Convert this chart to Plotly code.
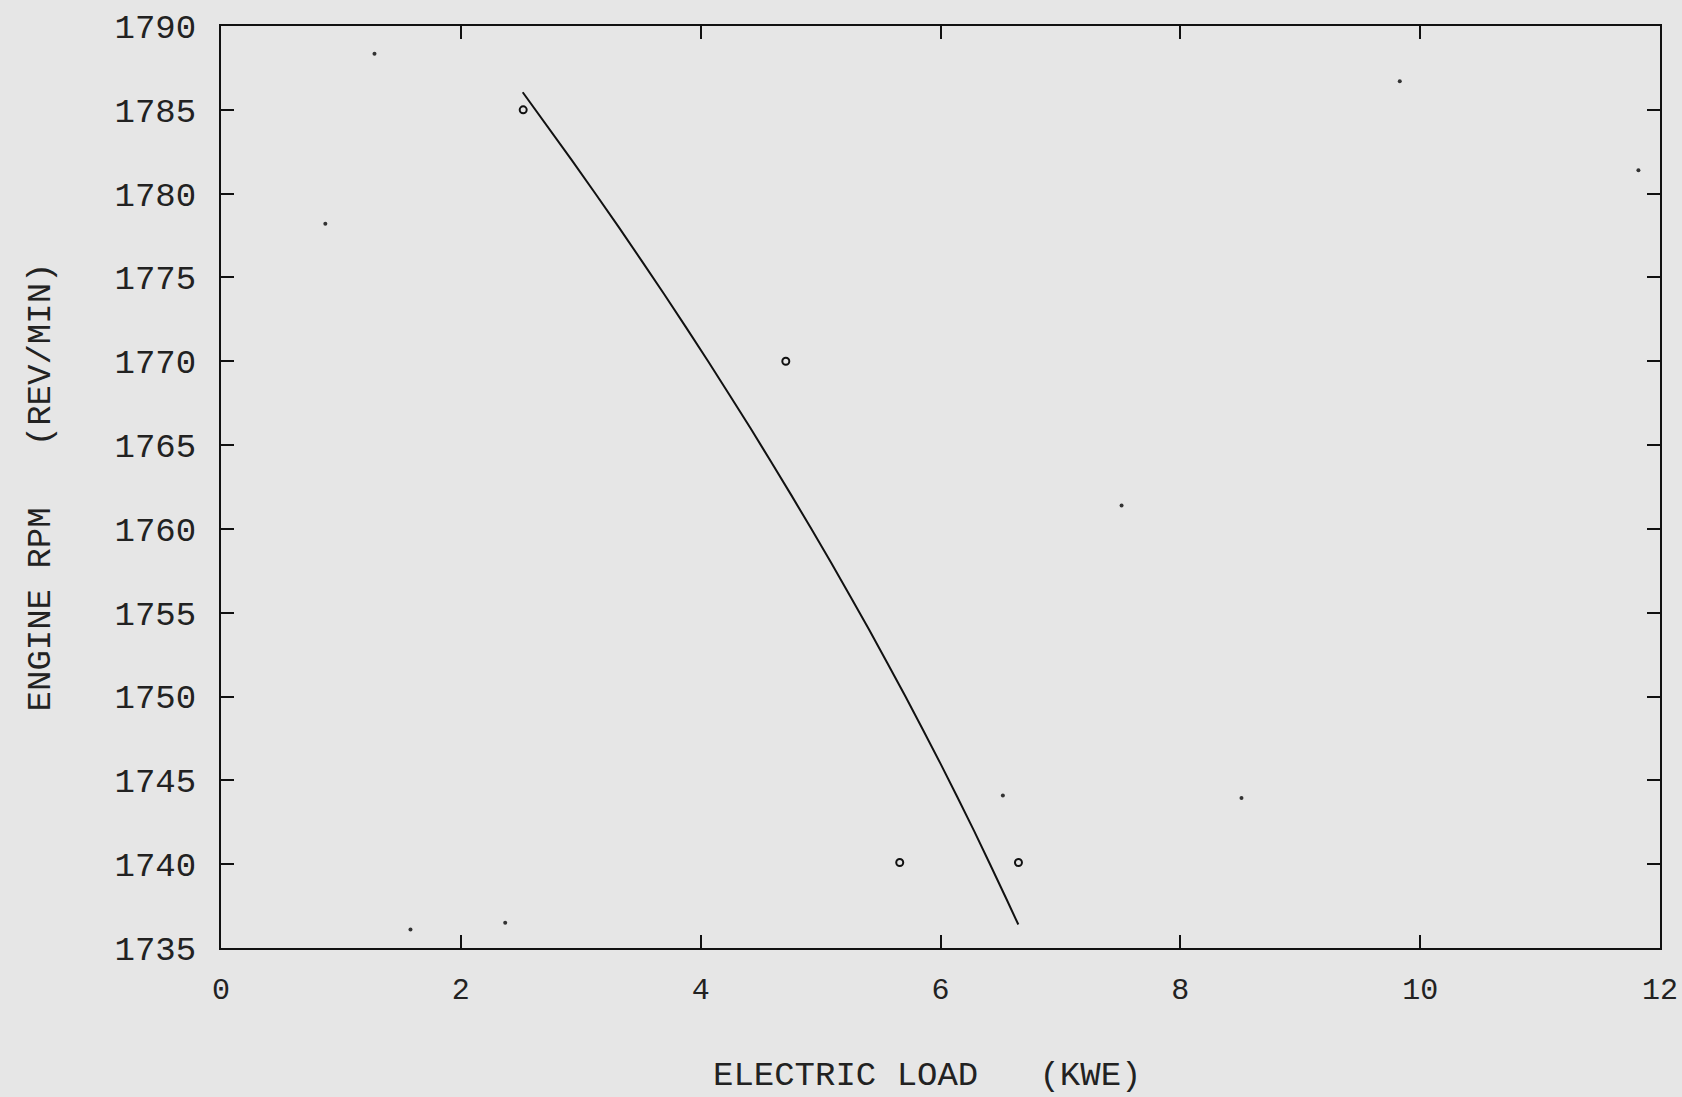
import plotly.graph_objects as go

# Measured data points (open circles)
load_pts = [2.52, 4.71, 5.66, 6.65]
rpm_pts = [1785.0, 1770.0, 1740.1, 1740.1]

# Fitted curve
curve_load = [2.516, 2.925, 3.317, 3.696, 4.062, 4.416, 4.757, 5.087, 5.404, 5.708, 6.000, 6.279, 6.545, 6.649]
curve_rpm = [1786.05, 1782, 1778, 1774, 1770, 1766, 1762, 1758, 1754, 1750, 1746, 1742, 1738, 1736.4]

# Visible specks on the scanned sheet
speck_load = [1.28, 9.83, 7.51, 6.52, 8.51, 2.37, 1.58, 11.82, 0.87]
speck_rpm = [1788.35, 1786.7, 1761.4, 1744.1, 1743.95, 1736.5, 1736.1, 1781.4, 1778.2]

x_ticks = [0, 2, 4, 6, 8, 10, 12]
y_ticks = [1735, 1740, 1745, 1750, 1755, 1760, 1765, 1770, 1775, 1780, 1785, 1790]

x_title = "ELECTRIC LOAD\u00a0\u00a0\u00a0(KWE)"
y_title = "ENGINE RPM\u00a0\u00a0\u00a0(REV/MIN)"

FONT = "Liberation Mono"
BG = "#e6e6e6"

fig = go.Figure()
fig.add_trace(go.Scatter(x=speck_load, y=speck_rpm, mode="markers",
                         marker=dict(size=4, color="#333333"), hoverinfo="skip"))
fig.add_trace(go.Scatter(x=curve_load, y=curve_rpm, mode="lines",
                         line=dict(color="#111111", width=2, shape="spline", smoothing=0.6)))
fig.add_trace(go.Scatter(x=load_pts, y=rpm_pts, mode="markers",
                         marker=dict(symbol="circle-open", size=7, color="#111111",
                                     line=dict(width=2, color="#111111"))))

axis_common = dict(showline=True, linecolor="#111111", linewidth=2, mirror="ticks",
                   ticks="inside", ticklen=13, tickwidth=2, tickcolor="#111111",
                   showgrid=False, zeroline=False, ticklabeloverflow="allow",
                   automargin=False)

fig.update_layout(
    width=1682, height=1097,
    margin=dict(l=221, r=22, t=26, b=149),
    paper_bgcolor=BG, plot_bgcolor=BG,
    showlegend=False,
    xaxis=dict(range=[0, 12], tickvals=x_ticks, ticktext=[str(v) for v in x_ticks],
               ticklabelstandoff=13,
               tickfont=dict(family=FONT, size=30, color="#222222"),
               **axis_common),
    yaxis=dict(range=[1735, 1790], tickvals=y_ticks, ticktext=[str(v) for v in y_ticks],
               ticklabelstandoff=16,
               tickfont=dict(family=FONT, size=34, color="#222222"),
               title=dict(text=y_title, standoff=54,
                          font=dict(family=FONT, size=34, color="#222222")),
               **axis_common),
    annotations=[dict(text=x_title, xref="paper", yref="paper", x=0.4906, y=-0.139,
                      xanchor="center", yanchor="middle", showarrow=False,
                      font=dict(family=FONT, size=34, color="#222222"))],
)

fig.write_html("out.html")
